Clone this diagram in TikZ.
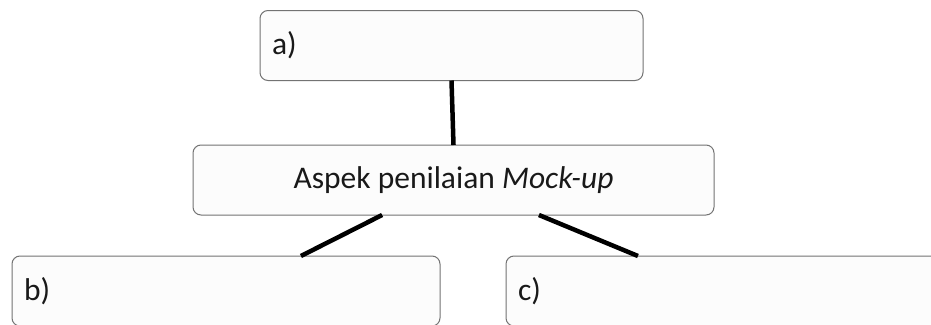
\documentclass[tikz,border=0pt]{standalone}
\usepackage{fontspec}
\setmainfont{Carlito}
\usetikzlibrary{calc}

\tikzset{
  box/.style={draw=black!55, fill=black!1, rounded corners=8pt, line width=1pt,
    minimum height=70pt, text=black!90, inner xsep=12pt, outer sep=0pt},
  link/.style={line width=4.5pt, black}
}

\begin{document}
\begin{tikzpicture}[x=1pt, y=-1pt, font=\fontsize{31.5}{36}\selectfont]
   % page is 931 x 324, y runs downwards
   \clip (0,0) rectangle (931,324);
   \fill[white] (0,0) rectangle (931,324);

   \node[box, minimum width=383pt, text width=359pt, align=left] (boxa) at (451.5,45.5) {a)};
   \node[box, minimum width=521pt] (aspek) at (453.5,180) {Aspek penilaian \textit{Mock-up}};
   \node[box, minimum width=428pt, text width=404pt, align=left] (boxb) at (226,291) {b)};
   \node[box, minimum width=434pt, text width=410pt, align=left] (boxc) at (723,291) {c)};

   \draw[link] (boxa.south) -- (aspek.north);
   \draw[link] ($(aspek.south west)!0.363!(aspek.south east)$) -- ($(boxb.north west)!0.675!(boxb.north east)$);
   \draw[link] ($(aspek.south west)!0.664!(aspek.south east)$) -- ($(boxc.north west)!0.304!(boxc.north east)$);
\end{tikzpicture}
\end{document}
